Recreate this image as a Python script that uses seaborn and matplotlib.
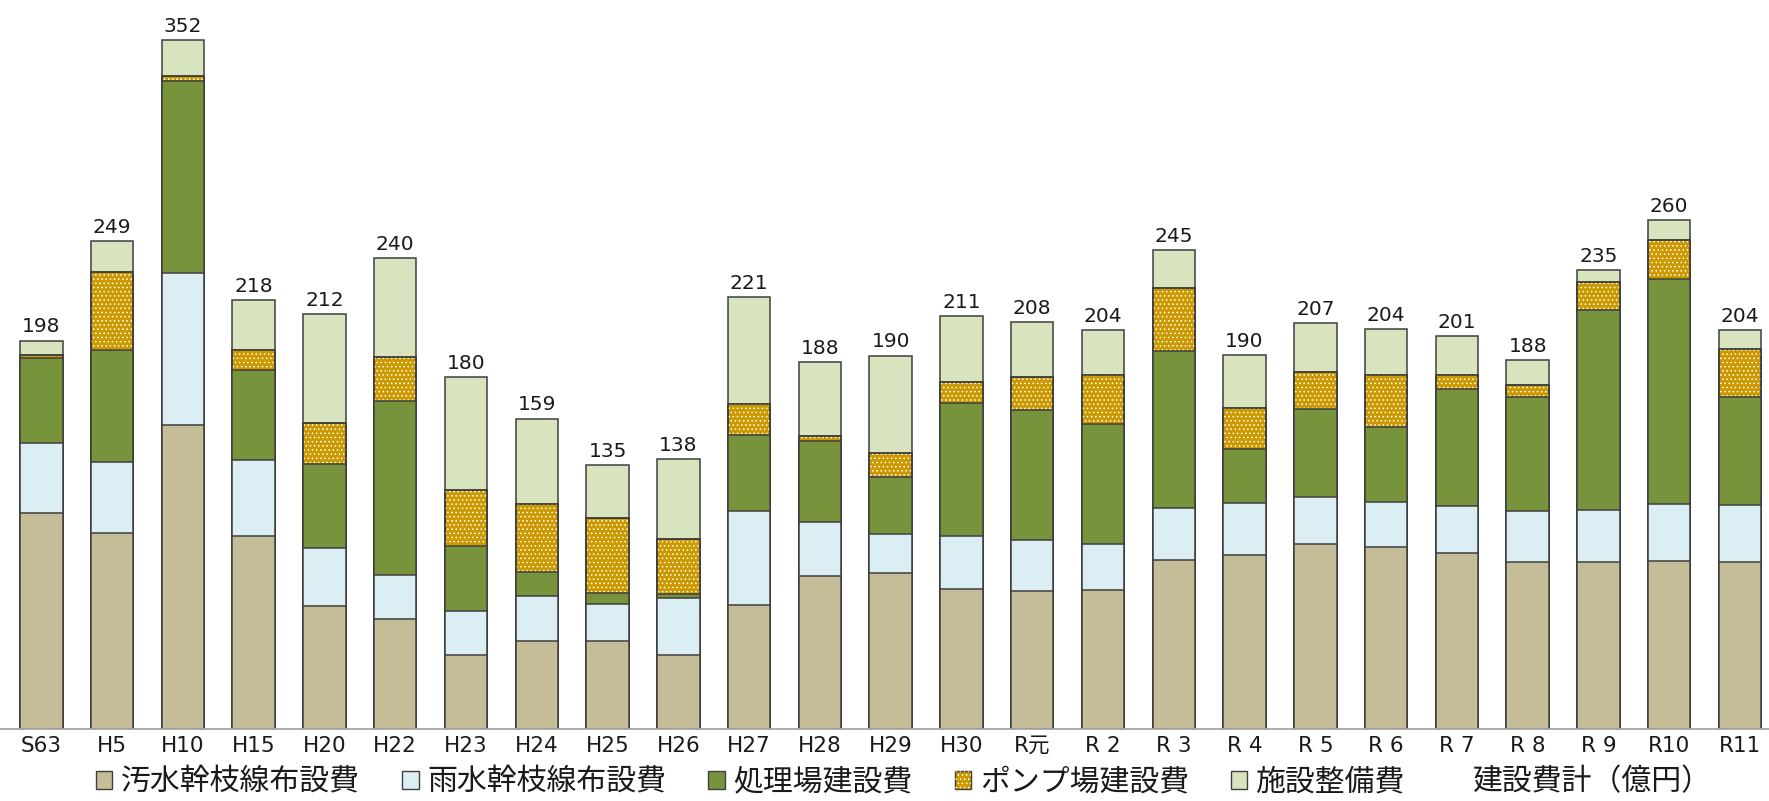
import numpy as np
import matplotlib
matplotlib.use("Agg")
import matplotlib.pyplot as plt
import seaborn as sns
from matplotlib.patches import Patch

# 年度ラベル
years = ['S63', 'H5', 'H10', 'H15', 'H20', 'H22', 'H23', 'H24', 'H25', 'H26',
         'H27', 'H28', 'H29', 'H30', 'R元', 'R 2', 'R 3', 'R 4', 'R 5', 'R 6',
         'R 7', 'R 8', 'R 9', 'R10', 'R11']

# 費目別（億円）
sewage = [110.3, 99.9, 155.2, 98.7, 62.9, 56.2, 37.8, 45.0, 45.0, 37.8,
          63.4, 78.2, 79.6, 71.7, 70.5, 71.1, 86.6, 88.9, 94.5, 93.1,
          90.1, 85.3, 85.3, 85.8, 85.3]
rain = [35.7, 36.3, 77.7, 38.7, 29.4, 22.6, 22.7, 23.0, 18.9, 29.3,
        48.0, 27.7, 19.9, 26.8, 26.1, 23.4, 26.2, 26.7, 24.3, 23.0,
        24.0, 26.1, 26.6, 29.2, 29.0]
plant = [43.6, 57.5, 98.4, 45.9, 43.0, 88.8, 33.2, 12.1, 5.4, 1.7,
         39.0, 41.1, 29.1, 67.9, 66.3, 61.6, 80.5, 27.4, 44.8, 38.2,
         59.5, 58.1, 102.2, 114.8, 55.2]
pump = [1.4, 39.6, 2.4, 10.5, 21.2, 22.6, 28.4, 34.7, 38.7, 28.3,
        15.5, 2.9, 12.4, 10.8, 17.1, 24.7, 31.8, 21.1, 18.7, 26.5,
        7.2, 6.4, 14.2, 20.1, 24.7]
facility = [7.5, 16.2, 18.4, 25.4, 55.5, 50.3, 57.9, 43.8, 27.0, 40.9,
            55.0, 37.8, 49.8, 33.7, 28.0, 23.1, 19.7, 26.8, 25.3, 23.6,
            20.1, 12.5, 6.4, 10.2, 9.5]
totals = [198, 249, 352, 218, 212, 240, 180, 159, 135, 138, 221, 188, 190,
          211, 208, 204, 245, 190, 207, 204, 201, 188, 235, 260, 204]

names = ['汚水幹枝線布設費', '雨水幹枝線布設費', '処理場建設費', 'ポンプ場建設費', '施設整備費']
colors = ['#C4BD97', '#DAEEF3', '#77933C', '#CC9900', '#D7E4BD']
edge = '#3F3F3F'

sns.set_theme(style="white")
plt.rcParams['font.family'] = ['Noto Sans CJK JP', 'DejaVu Sans']
plt.rcParams['hatch.linewidth'] = 0.6

fig = plt.figure(figsize=(17.69, 8.01), dpi=100)
ax = fig.add_axes([0, 72 / 801, 1, 724 / 801])

cum = np.cumsum(np.array([sewage, rain, plant, pump, facility]), axis=0)

# 上の層から順に累積値で重ねて描く
for i in reversed(range(5)):
    sns.barplot(x=years, y=cum[i], color=colors[i], saturation=1, width=0.6,
                edgecolor=edge, linewidth=1.1, ax=ax)
    if i == 3:
        # ポンプ場の白い点模様
        sns.barplot(x=years, y=cum[i], color=colors[i], saturation=1, width=0.6,
                    ax=ax)
        for p in ax.containers[-1]:
            p.set_facecolor('none')
            p.set_edgecolor('white')
            p.set_linewidth(0)
            p.set_hatch('....')
        # 外枠をもう一度
        sns.barplot(x=years, y=cum[i], color=colors[i], saturation=1, width=0.6,
                    ax=ax)
        for p in ax.containers[-1]:
            p.set_facecolor('none')
            p.set_edgecolor(edge)
            p.set_linewidth(1.1)

# 合計ラベル
for xi, (top, lab) in enumerate(zip(cum[4], totals)):
    ax.annotate(str(lab), (xi, top), xytext=(0, 3), textcoords='offset points',
                ha='center', va='bottom', fontsize=14.5, color='#1A1A1A',
                family=['DejaVu Sans'])

ax.set_xlim(-0.584, 24.41)
ax.set_ylim(0, 724 / 1.957)
ax.set_yticks([])
ax.set_xlabel('')
ax.set_ylabel('')
for s in ['top', 'left', 'right']:
    ax.spines[s].set_visible(False)
ax.spines['bottom'].set_color('#A6A6A6')
ax.spines['bottom'].set_linewidth(1.3)
ax.tick_params(axis='x', length=0, pad=5, labelsize=15.5, labelcolor='#1A1A1A')
for t in ax.get_xticklabels():
    t.set_fontfamily(['DejaVu Sans', 'Noto Sans CJK JP'])

# 凡例
handles = []
for i in range(5):
    base = Patch(facecolor=colors[i], edgecolor=edge, linewidth=1.0)
    if i == 3:
        dots = Patch(facecolor='none', edgecolor='white', linewidth=0, hatch='....')
        handles.append((base, dots))
    else:
        handles.append(base)
handles.append(Patch(facecolor='none', edgecolor='none'))
labels = names + ['建設費計（億円）']
fig.legend(handles, labels, loc='center', bbox_to_anchor=(0.511, 0.024), ncol=6,
           frameon=False, fontsize=21.5, handlelength=0.55, handleheight=0.55,
           handletextpad=0.3, columnspacing=1.4, labelcolor='#1A1A1A',
           borderaxespad=0, borderpad=0)

fig.savefig('out.png', dpi=100)
